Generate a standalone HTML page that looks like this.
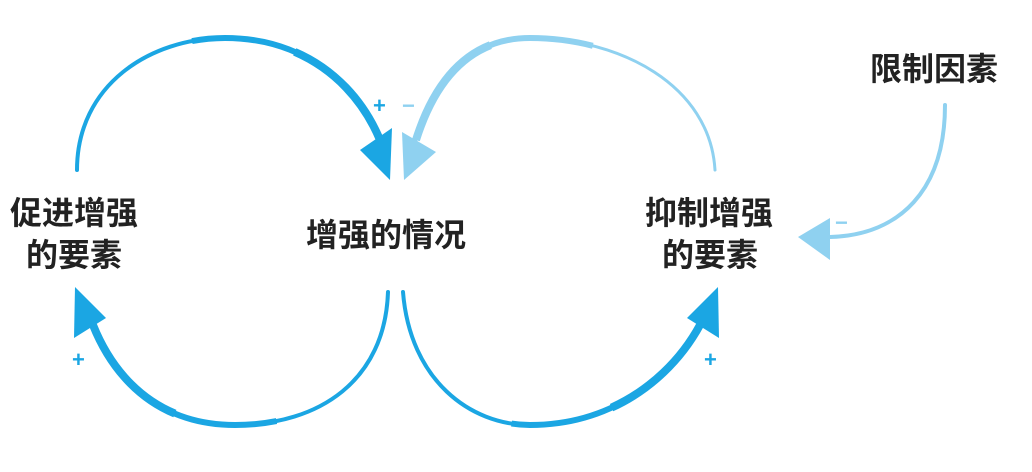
<!DOCTYPE html>
<html><head><meta charset="utf-8"><style>
body{margin:0;background:#fff;width:1032px;height:472px;overflow:hidden}
svg{display:block}
text{font-family:"Liberation Sans","Noto Sans CJK SC",sans-serif;font-weight:bold;fill:#222}
</style></head><body>
<svg width="1032" height="472" viewBox="0 0 1032 472">
<defs>
<path id="a1" d="M77,170 C77,85 150,38 225,38 C300,38 355,80 380,140"/>
<path id="a2" d="M388,292 C385,380 320,425 235,425 C160,425 115,380 93,325"/>
<path id="a3" d="M715,170 C710,85 620,38 530,38 C470,38 435,80 416,140"/>
<path id="a4" d="M403,292 C410,380 470,425 530,425 C610,425 670,380 700,325"/>
</defs>
<g fill="none">
<use href="#a1" stroke="#1ba6e3" stroke-width="4" stroke-linecap="round"/>
<path d="M77,170 C77,85 150,38 225,38 C300,38 355,80 380,140" pathLength="100" stroke="#1ba6e3" stroke-width="6" stroke-dasharray="0 45 100"/>
<path d="M77,170 C77,85 150,38 225,38 C300,38 355,80 380,140" pathLength="100" stroke="#1ba6e3" stroke-width="8" stroke-dasharray="0 70 100"/>
<use href="#a2" stroke="#1ba6e3" stroke-width="4" stroke-linecap="round"/>
<path d="M388,292 C385,380 320,425 235,425 C160,425 115,380 93,325" pathLength="100" stroke="#1ba6e3" stroke-width="6" stroke-dasharray="0 45 100"/>
<path d="M388,292 C385,380 320,425 235,425 C160,425 115,380 93,325" pathLength="100" stroke="#1ba6e3" stroke-width="8" stroke-dasharray="0 70 100"/>
<use href="#a3" stroke="#8fd1f0" stroke-width="3" stroke-linecap="round"/>
<path d="M715,170 C710,85 620,38 530,38 C470,38 435,80 416,140" pathLength="100" stroke="#8fd1f0" stroke-width="6" stroke-dasharray="0 45 100"/>
<path d="M715,170 C710,85 620,38 530,38 C470,38 435,80 416,140" pathLength="100" stroke="#8fd1f0" stroke-width="8" stroke-dasharray="0 70 100"/>
<use href="#a4" stroke="#1ba6e3" stroke-width="4" stroke-linecap="round"/>
<path d="M403,292 C410,380 470,425 530,425 C610,425 670,380 700,325" pathLength="100" stroke="#1ba6e3" stroke-width="6" stroke-dasharray="0 45 100"/>
<path d="M403,292 C410,380 470,425 530,425 C610,425 670,380 700,325" pathLength="100" stroke="#1ba6e3" stroke-width="8" stroke-dasharray="0 70 100"/>
<path d="M945,105 C945,190 900,235 830,237" stroke="#8fd1f0" stroke-width="4" stroke-linecap="round"/>
</g>
<polygon points="360,150 392,128 390,180" fill="#1ba6e3"/>
<polygon points="75,287 106,318 74,338" fill="#1ba6e3"/>
<polygon points="402,132 436,152 404,180" fill="#8fd1f0"/>
<polygon points="718,287 687,318 719,338" fill="#1ba6e3"/>
<polygon points="798,237 830,218 830,260" fill="#8fd1f0"/>
<g font-size="32">
<text x="10" y="224">促进增强</text>
<text x="26" y="266">的要素</text>
<text x="306" y="246">增强的情况</text>
<text x="645" y="224">抑制增强</text>
<text x="662" y="266">的要素</text>
<text x="870" y="80">限制因素</text>
</g>
<g font-size="22">
<text x="373" y="113" style="fill:#1ba6e3">+</text>
<text x="402" y="113" style="fill:#8fd1f0">−</text>
<text x="72" y="367" style="fill:#1ba6e3">+</text>
<text x="704" y="367" style="fill:#1ba6e3">+</text>
<text x="835" y="230" style="fill:#8fd1f0">−</text>
</g>
</svg>
</body></html>
